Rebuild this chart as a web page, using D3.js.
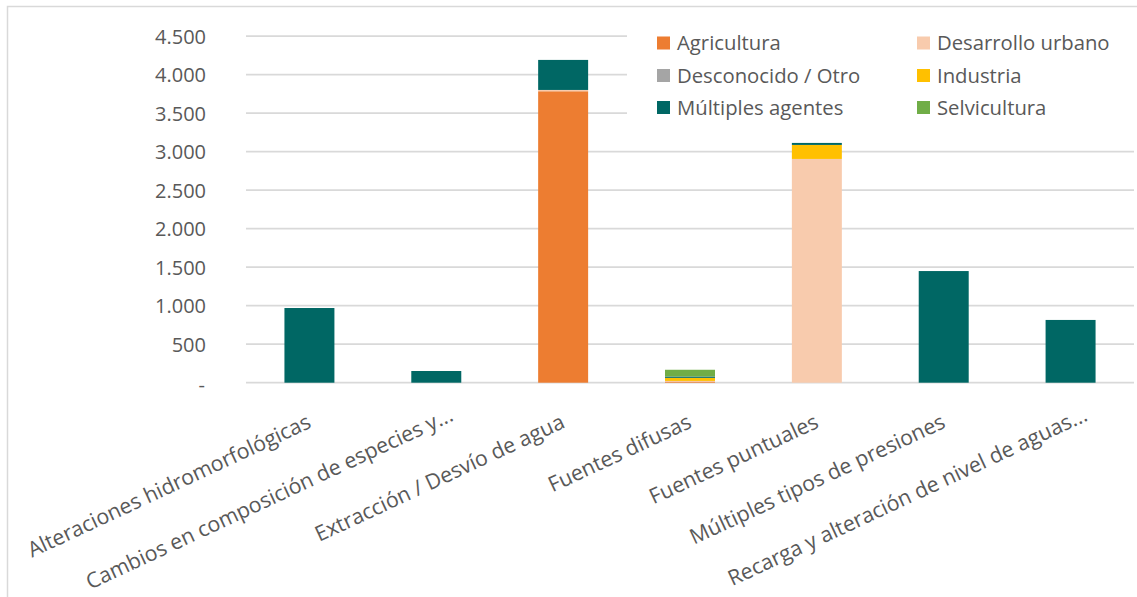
<!DOCTYPE html>
<html>
<head>
<meta charset="utf-8">
<script src="https://cdn.jsdelivr.net/npm/d3@7"></script>
<style>
  html, body { margin: 0; padding: 0; background: #fff; }
  svg { display: block; font-family: "Open Sans", "Noto Sans", sans-serif; }
</style>
</head>
<body>
<svg id="chart" width="1137" height="597"></svg>
<script>
// Categories (pressure types)
const categories = [
  "Alteraciones hidromorfológicas",
  "Cambios en composición de especies y...",
  "Extracción / Desvío de agua",
  "Fuentes difusas",
  "Fuentes puntuales",
  "Múltiples tipos de presiones",
  "Recarga y alteración de nivel de aguas..."
];

// Series values per category (stacked bottom to top)
const agricultura      = [0,   0,   3785, 15, 0,    0,    0];
const desarrolloUrbano = [0,   0,   17,   8,  2906, 0,    0];
const desconocidoOtro  = [0,   0,   0,    0,  0,    0,    0];
const industria        = [0,   0,   0,    40, 182,  0,    0];
const multiplesAgentes = [970, 152, 390,  17, 26,   1450, 815];
const selvicultura     = [0,   0,   0,    88, 0,    0,    0];

const seriesNames = ["Agricultura", "Desarrollo urbano", "Desconocido / Otro",
                     "Industria", "Múltiples agentes", "Selvicultura"];
const seriesValues = [agricultura, desarrolloUrbano, desconocidoOtro,
                      industria, multiplesAgentes, selvicultura];
const seriesColors = ["#ED7D31", "#F8CBAD", "#A5A5A5", "#FFC000", "#006764", "#70AD47"];

// Y-axis ticks
const yTicks = [0, 500, 1000, 1500, 2000, 2500, 3000, 3500, 4000, 4500];

const svg = d3.select("#chart");
const W = 1137, H = 597;

// Outer chart frame
svg.append("rect")
  .attr("x", 7.5).attr("y", 6.5)
  .attr("width", W + 10).attr("height", H + 10)
  .attr("fill", "#fff").attr("stroke", "#D9D9D9").attr("stroke-width", 1.5);

const plot = { left: 246, right: 1134, top: 36.2, bottom: 382.7 };

const x = d3.scaleBand()
  .domain(categories)
  .range([plot.left, plot.right])
  .paddingInner(0.606)
  .paddingOuter(0.303);

const y = d3.scaleLinear()
  .domain([0, 4500])
  .range([plot.bottom, plot.top]);

const esLocale = d3.formatLocale({ decimal: ",", thousands: ".", grouping: [3], currency: ["", " €"] });
const fmt = esLocale.format(",d");

// Gridlines
svg.append("g")
  .selectAll("line")
  .data(yTicks)
  .join("line")
  .attr("x1", plot.left).attr("x2", plot.right)
  .attr("y1", d => y(d)).attr("y2", d => y(d))
  .attr("stroke", "#D9D9D9").attr("stroke-width", 1.8);

// Y axis labels
const yAxis = d3.axisLeft(y)
  .tickValues(yTicks)
  .tickSize(0)
  .tickPadding(0)
  .tickFormat(d => d === 0 ? "-" : fmt(d));

const gy = svg.append("g")
  .attr("transform", `translate(${plot.left - 40},0)`)
  .call(yAxis);
gy.select(".domain").remove();
gy.selectAll("text")
  .attr("fill", "#595959")
  .attr("font-size", 20)
  .attr("font-family", "'Open Sans', sans-serif")
  .attr("dy", d => d === 0 ? "0.42em" : "0.36em")
  .attr("dx", d => d === 0 ? -1 : 0);

// Stacked bars
const rows = categories.map((c, i) => {
  const r = { category: c };
  seriesNames.forEach((s, k) => { r[s] = seriesValues[k][i]; });
  return r;
});
const stacked = d3.stack().keys(seriesNames)(rows);

svg.append("g")
  .selectAll("g")
  .data(stacked)
  .join("g")
  .attr("fill", (d, k) => seriesColors[k])
  .selectAll("rect")
  .data(d => d.filter(p => p[1] - p[0] > 0))
  .join("rect")
  .attr("x", p => x(p.data.category))
  .attr("width", x.bandwidth())
  .attr("y", p => y(p[1]))
  .attr("height", p => y(p[0]) - y(p[1]));

// Category labels (rotated); truncated names keep their ellipsis past the anchor
const ELL = "...";
const labelSize = 21.3;
const xAxis = d3.axisBottom(x).tickSize(0).tickPadding(0)
  .tickFormat(d => d.endsWith(ELL) ? d.slice(0, -ELL.length) : d);
const gx = svg.append("g").call(xAxis);
gx.select(".domain").remove();
gx.selectAll(".tick").attr("transform", d => `translate(${x(d) + x.bandwidth() / 2 + 3},427)`);
gx.selectAll("text")
  .attr("fill", "#595959")
  .attr("font-size", labelSize)
  .attr("font-family", "'Open Sans', sans-serif")
  .attr("text-anchor", "end")
  .attr("y", 0).attr("dy", 0)
  .attr("transform", "rotate(-25)");
gx.selectAll(".tick").filter(d => d.endsWith(ELL))
  .append("text")
  .attr("fill", "#595959")
  .attr("font-size", labelSize)
  .attr("font-family", "'Open Sans', sans-serif")
  .attr("text-anchor", "start")
  .attr("transform", "rotate(-25)")
  .text(ELL);

// Legend
const legend = svg.append("g");
legend.append("rect")
  .attr("x", 627).attr("y", 22)
  .attr("width", 510).attr("height", 104)
  .attr("fill", "#fff");

const legendCols = [657, 917];
const legendRows = [43, 75.5, 107.5];
const items = legend.selectAll("g.item")
  .data(seriesNames)
  .join("g")
  .attr("class", "item")
  .attr("transform", (d, i) => `translate(${legendCols[i % 2]},${legendRows[Math.floor(i / 2)]})`);
items.append("rect")
  .attr("x", 0).attr("y", -6.5)
  .attr("width", 13).attr("height", 13)
  .attr("fill", (d, i) => seriesColors[i]);
items.append("text")
  .attr("x", 20).attr("y", 0)
  .attr("dy", "0.36em")
  .attr("fill", "#595959")
  .attr("font-size", 20.3)
  .text(d => d);
</script>
</body>
</html>
